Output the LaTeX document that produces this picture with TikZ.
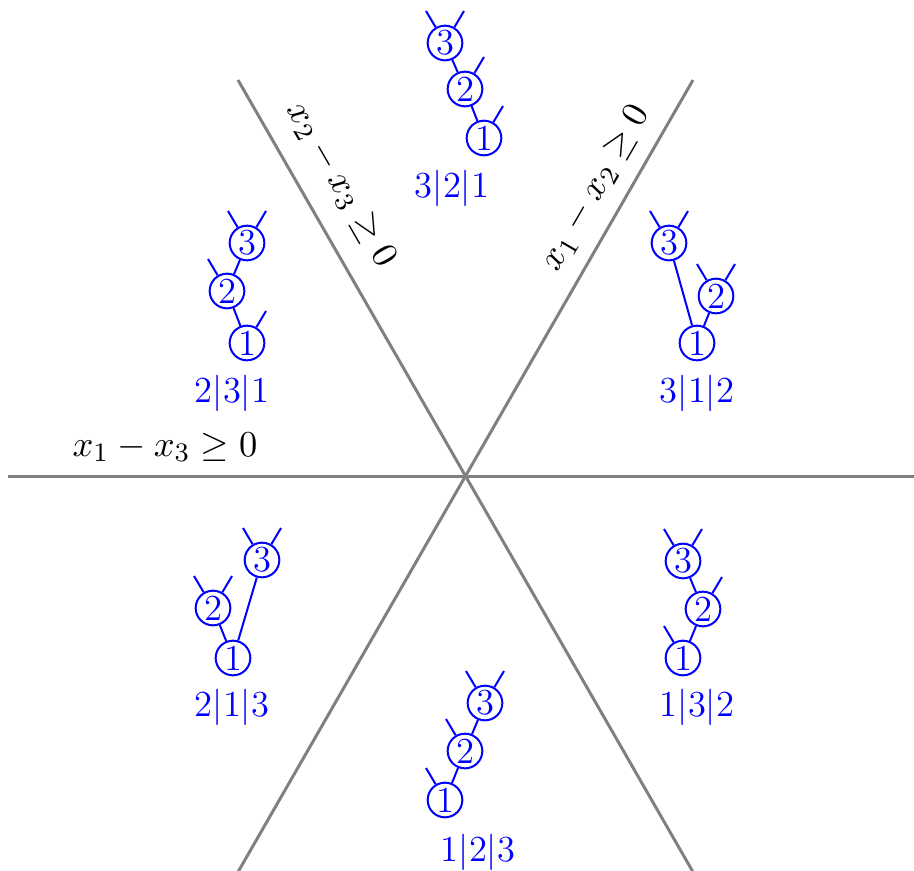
\documentclass[tikz,border=0pt]{standalone}
\usepackage{amssymb}
\begin{document}
\begin{tikzpicture}[x=0.3pt,y=-0.3pt,
  every node/.style={font=\fontsize{11}{13}\selectfont},
  cnode/.style={circle,draw=blue,text=blue,line width=0.6pt,inner sep=0.4pt,minimum size=10.4pt},
  tedge/.style={draw=blue,line width=0.6pt},
  region/.style={draw=gray,line width=0.9pt},
  lbl/.style={text=blue,inner sep=0pt},
  eqlbl/.style={text=black,inner sep=0pt}]
\useasboundingbox (0,0) rectangle (914,870);
% region lines
\coordinate (O) at (465,476);
\coordinate (Lw) at (8,476);
\coordinate (Le) at (914,476);
\coordinate (Lnw) at (238,80);
\coordinate (Lse) at (693,872);
\coordinate (Lne) at (693,80);
\coordinate (Lsw) at (238,872);
\draw[region] (Lw) -- (Le);
\draw[region] (Lnw) -- (Lse);
\draw[region] (Lne) -- (Lsw);
\node[eqlbl,rotate=-60] (eqa) at (341,185) {$x_2 - x_3 \geq 0$};
\node[eqlbl,rotate=60] (eqb) at (596,188) {$x_1 - x_2 \geq 0$};
\node[eqlbl] (eqc) at (165,447) {$x_1 - x_3 \geq 0$};
% tree 3|2|1
\node[cnode] (a1) at (484,138) {1};
\node[cnode] (a2) at (465,89) {2};
\node[cnode] (a3) at (445,43) {3};
\node[lbl] (la) at (452,188) {3$|$2$|$1};
\coordinate (a1r) at ([shift={(19,-32)}]a1.center);
\coordinate (a2r) at ([shift={(19,-32)}]a2.center);
\coordinate (a3l) at ([shift={(-19,-32)}]a3.center);
\coordinate (a3r) at ([shift={(19,-32)}]a3.center);
\draw[tedge] (a1) -- (a2); \draw[tedge] (a2) -- (a3);
\draw[tedge] (a1) -- (a1r); \draw[tedge] (a2) -- (a2r);
\draw[tedge] (a3) -- (a3l); \draw[tedge] (a3) -- (a3r);
% tree 2|3|1
\node[cnode] (b1) at (247,343) {1};
\node[cnode] (b2) at (227,291) {2};
\node[cnode] (b3) at (247,243) {3};
\node[lbl] (lb) at (232,393) {2$|$3$|$1};
\coordinate (b1r) at ([shift={(19,-32)}]b1.center);
\coordinate (b2l) at ([shift={(-19,-32)}]b2.center);
\coordinate (b3l) at ([shift={(-19,-32)}]b3.center);
\coordinate (b3r) at ([shift={(19,-32)}]b3.center);
\draw[tedge] (b1) -- (b2); \draw[tedge] (b2) -- (b3);
\draw[tedge] (b1) -- (b1r); \draw[tedge] (b2) -- (b2l);
\draw[tedge] (b3) -- (b3l); \draw[tedge] (b3) -- (b3r);
% tree 3|1|2
\node[cnode] (c1) at (697,343) {1};
\node[cnode] (c2) at (716,296) {2};
\node[cnode] (c3) at (669,243) {3};
\node[lbl] (lc) at (697,393) {3$|$1$|$2};
\coordinate (c2l) at ([shift={(-19,-32)}]c2.center);
\coordinate (c2r) at ([shift={(19,-32)}]c2.center);
\coordinate (c3l) at ([shift={(-19,-32)}]c3.center);
\coordinate (c3r) at ([shift={(19,-32)}]c3.center);
\draw[tedge] (c1) -- (c2); \draw[tedge] (c1) -- (c3);
\draw[tedge] (c2) -- (c2l); \draw[tedge] (c2) -- (c2r);
\draw[tedge] (c3) -- (c3l); \draw[tedge] (c3) -- (c3r);
% tree 2|1|3
\node[cnode] (d1) at (233,658) {1};
\node[cnode] (d2) at (213,608) {2};
\node[cnode] (d3) at (262,560) {3};
\node[lbl] (ld) at (232,707) {2$|$1$|$3};
\coordinate (d2l) at ([shift={(-19,-32)}]d2.center);
\coordinate (d2r) at ([shift={(19,-32)}]d2.center);
\coordinate (d3l) at ([shift={(-19,-32)}]d3.center);
\coordinate (d3r) at ([shift={(19,-32)}]d3.center);
\draw[tedge] (d1) -- (d2); \draw[tedge] (d1) -- (d3);
\draw[tedge] (d2) -- (d2l); \draw[tedge] (d2) -- (d2r);
\draw[tedge] (d3) -- (d3l); \draw[tedge] (d3) -- (d3r);
% tree 1|3|2
\node[cnode] (e1) at (683,658) {1};
\node[cnode] (e2) at (703,609) {2};
\node[cnode] (e3) at (683,561) {3};
\node[lbl] (le) at (697,707) {1$|$3$|$2};
\coordinate (e1l) at ([shift={(-19,-32)}]e1.center);
\coordinate (e2r) at ([shift={(19,-32)}]e2.center);
\coordinate (e3l) at ([shift={(-19,-32)}]e3.center);
\coordinate (e3r) at ([shift={(19,-32)}]e3.center);
\draw[tedge] (e1) -- (e2); \draw[tedge] (e2) -- (e3);
\draw[tedge] (e1) -- (e1l); \draw[tedge] (e2) -- (e2r);
\draw[tedge] (e3) -- (e3l); \draw[tedge] (e3) -- (e3r);
% tree 1|2|3
\node[cnode] (f1) at (445,800) {1};
\node[cnode] (f2) at (465,751) {2};
\node[cnode] (f3) at (485,703) {3};
\node[lbl] (lf) at (478,852) {1$|$2$|$3};
\coordinate (f1l) at ([shift={(-19,-32)}]f1.center);
\coordinate (f2l) at ([shift={(-19,-32)}]f2.center);
\coordinate (f3l) at ([shift={(-19,-32)}]f3.center);
\coordinate (f3r) at ([shift={(19,-32)}]f3.center);
\draw[tedge] (f1) -- (f2); \draw[tedge] (f2) -- (f3);
\draw[tedge] (f1) -- (f1l); \draw[tedge] (f2) -- (f2l);
\draw[tedge] (f3) -- (f3l); \draw[tedge] (f3) -- (f3r);
\end{tikzpicture}
\end{document}
